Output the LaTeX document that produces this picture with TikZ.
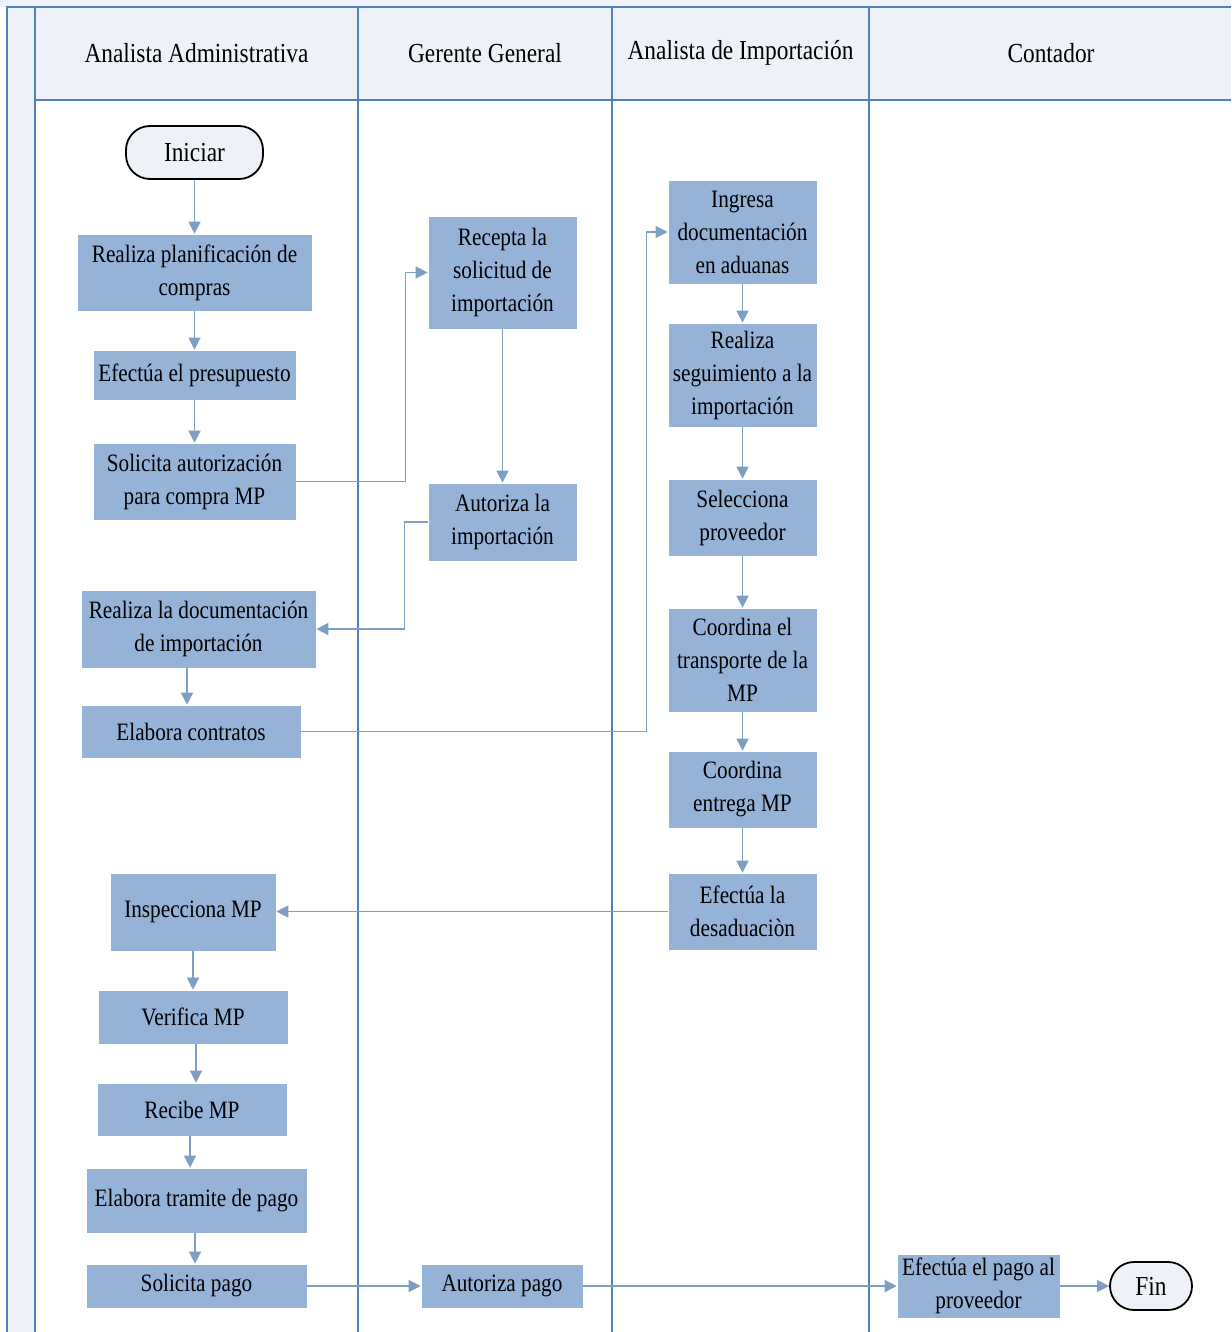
\documentclass[tikz,border=0pt]{standalone}
\usepackage{fontspec}
\setmainfont{Liberation Serif}[FakeStretch=0.85]
\usetikzlibrary{arrows.meta}
\definecolor{laneblue}{HTML}{4F81BD}
\definecolor{headfill}{HTML}{EEF2F8}
\definecolor{procfill}{HTML}{95B3D7}
\definecolor{arrowc}{HTML}{7F9FC2}
\tikzset{
  lane/.style={draw=laneblue, line width=2pt},
  proc/.style={rectangle, fill=procfill, draw=white, line width=0.6pt, inner sep=0pt, align=center, font=\fontsize{25}{33}\selectfont},
  term/.style={rectangle, rounded corners=24pt, fill=headfill, draw=black, line width=1.8pt, inner sep=0pt, font=\fontsize{27.5}{33}\selectfont},
  head/.style={inner sep=0pt, font=\fontsize{27.5}{33}\selectfont},
  flow/.style={draw=arrowc, line width=1.3pt, -{Triangle[length=12pt,width=12pt]}},
}
\begin{document}
\begin{tikzpicture}[x=1pt,y=-1pt]
\useasboundingbox (0,0) rectangle (1231,1332);
% pool background
\fill[headfill] (0,0) rectangle (1231,7);
\fill[headfill] (7,7) rectangle (35,1332);
\fill[headfill] (35,7) rectangle (1231,100);
\draw[lane] (7,1332) -- (7,7) -- (1231,7);
\draw[lane] (35,100) -- (1231,100);
\draw[lane] (35,7) -- (35,1332);
\draw[lane] (358,7) -- (358,1332);
\draw[lane] (612,7) -- (612,1332);
\draw[lane] (869,7) -- (869,1332);
% headers
\node[head] (h1) at (196.5,53) {Analista Administrativa};
\node[head] (h2) at (485,53) {Gerente General};
\node[head] (h3) at (740.5,53) {Analista de Importación};
\node[head] (h4) at (1051,53) {Contador};
% Analista Administrativa
\node[term, minimum width=137pt, minimum height=53pt] (ini) at (194.5,152.5) {Iniciar};
\node[proc, minimum width=235pt, minimum height=77pt] (p1) at (194.5,272.5) {Realiza planificación de\\compras};
\node[proc, minimum width=203pt, minimum height=50pt] (p2) at (194.5,375) {Efectúa el presupuesto};
\node[proc, minimum width=203pt, minimum height=77pt] (p3) at (194.5,481.5) {Solicita autorización\\para compra MP};
\node[proc, minimum width=235pt, minimum height=78pt] (p4) at (198.5,629) {Realiza la documentación\\de importación};
\node[proc, minimum width=220pt, minimum height=53pt] (p5) at (191,731.5) {Elabora contratos};
\node[proc, minimum width=166pt, minimum height=78pt] (p6) at (193,912) {Inspecciona MP};
\node[proc, minimum width=190pt, minimum height=54pt] (p7) at (193,1017) {Verifica MP};
\node[proc, minimum width=190pt, minimum height=53pt] (p8) at (192,1109.5) {Recibe MP};
\node[proc, minimum width=221pt, minimum height=65pt] (p9) at (196.5,1200.5) {Elabora tramite de pago};
\node[proc, minimum width=221pt, minimum height=44pt] (p10) at (196.5,1286) {Solicita pago};
% Gerente General
\node[proc, minimum width=149pt, minimum height=113pt] (g1) at (502.5,272.5) {Recepta la\\solicitud de\\importación};
\node[proc, minimum width=149pt, minimum height=78pt] (g2) at (502.5,522) {Autoriza la\\importación};
\node[proc, minimum width=162pt, minimum height=44pt] (g3) at (502,1286) {Autoriza pago};
% Analista de Importacion
\node[proc, minimum width=149pt, minimum height=104pt] (i1) at (742.5,232) {Ingresa\\documentación\\en aduanas};
\node[proc, minimum width=149pt, minimum height=104pt] (i2) at (742.5,375) {Realiza\\seguimiento a la\\importación};
\node[proc, minimum width=149pt, minimum height=77pt] (i3) at (742.5,517.5) {Selecciona\\proveedor};
\node[proc, minimum width=149pt, minimum height=104pt] (i4) at (742.5,660) {Coordina el\\transporte de la\\MP};
\node[proc, minimum width=149pt, minimum height=77pt] (i5) at (742.5,789.5) {Coordina\\entrega MP};
\node[proc, minimum width=149pt, minimum height=77pt] (i6) at (742.5,911.5) {Efectúa la\\desaduaciòn};
% Contador
\node[proc, minimum width=163pt, minimum height=64pt] (c1) at (978.5,1286) {Efectúa el pago al\\proveedor};
\node[term, minimum width=82pt, minimum height=48pt] (fin) at (1151,1286) {Fin};
% connectors
\draw[flow] (ini) -- (p1);
\draw[flow] (p1) -- (p2);
\draw[flow] (p2) -- (p3);
\draw[flow] (p3.east) -- ++(109,0) |- (g1.west);
\draw[flow] (g1) -- (g2);
\draw[flow] (g2.west) -- ++(-23,0) |- (p4.east);
\draw[flow] (p4.south -| 187,0) -- (p5.north -| 187,0);
\draw[flow] (p5.east) -- ++(345,0) |- (i1.west);
\draw[flow] (i1) -- (i2);
\draw[flow] (i2) -- (i3);
\draw[flow] (i3) -- (i4);
\draw[flow] (i4) -- (i5);
\draw[flow] (i5) -- (i6);
\draw[flow] (i6.west) -- (i6.west -| p6.east);
\draw[flow] (p6) -- (p7);
\draw[flow] (p7.south -| 196,0) -- (p8.north -| 196,0);
\draw[flow] (p8.south -| 190,0) -- (p9.north -| 190,0);
\draw[flow] (p9.south -| 195,0) -- (p10.north -| 195,0);
\draw[flow] (p10) -- (g3);
\draw[flow] (g3) -- (c1);
\draw[flow] (c1) -- (fin);
\end{tikzpicture}
\end{document}
